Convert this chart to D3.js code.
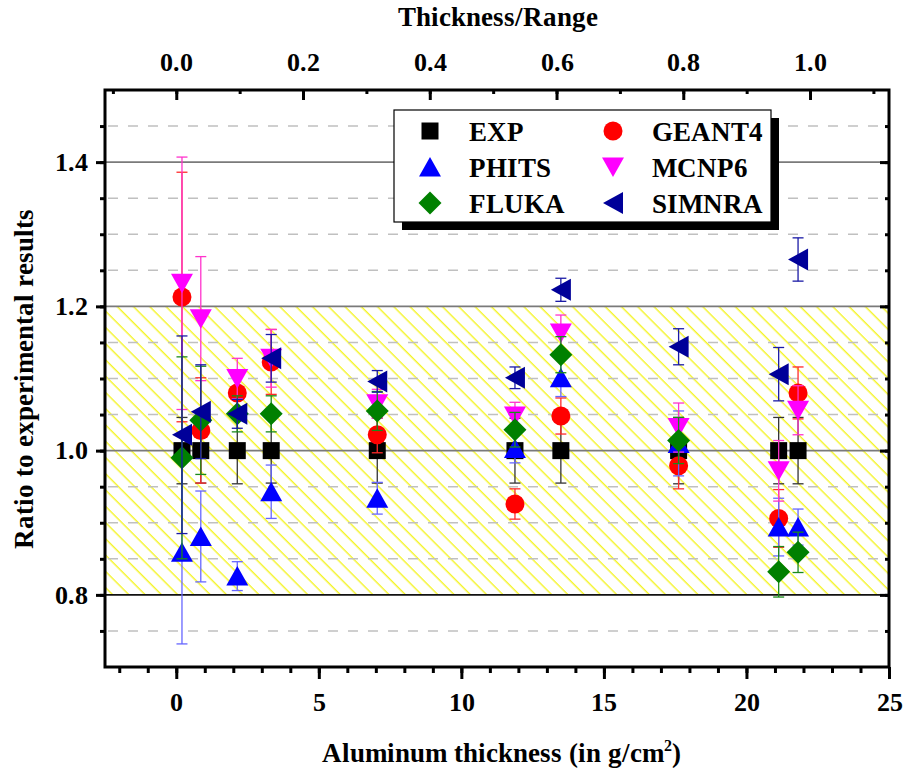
<!DOCTYPE html>
<html>
<head>
<meta charset="utf-8">
<script src="https://cdn.jsdelivr.net/npm/d3@7"></script>
<style>
  @font-face { font-family: 'FigSerif'; font-weight: bold;
    src: local('Liberation Serif Bold'), local('LiberationSerif-Bold'), local('DejaVu Serif Bold'), local('DejaVuSerif-Bold'); }
  body { margin: 0; background: #fff; }
</style>
</head>
<body>
<div id="chart"></div>
<script>
// thickness in g/cm2 for each measured point
const thickness = [0.2, 0.86, 2.14, 3.33, 7.05, 11.88, 13.49, 17.62, 21.13, 21.81]
// range of the beam in aluminium (used for top axis)
const alRange = 22.23

const seriesNames = ['EXP', 'GEANT4', 'PHITS', 'MCNP6', 'FLUKA', 'SIMNRA']

const expVal = [1, 1, 1, 1, 1, 1, 1, 1, 1, 1]
const expErr = [0.046, 0.045, 0.046, 0.045, 0.045, 0.045, 0.045, 0.046, 0.046, 0.046]
const geantVal = [1.213, 1.028, 1.080, 1.123, 1.022, 0.926, 1.048, 0.979, 0.906, 1.080]
const geantErr = [0.173, 0.073, 0.030, 0.045, 0.025, 0.021, 0.025, 0.032, 0.040, 0.036]
const phitsVal = [0.859, 0.881, 0.826, 0.943, 0.934, 1.003, 1.101, 1.010, 0.894, 0.894]
const phitsErr = [0.127, 0.063, 0.020, 0.037, 0.022, 0.020, 0.026, 0.045, 0.040, 0.025]
const mcnpVal = [1.232, 1.183, 1.100, 1.128, 1.065, 1.048, 1.163, 1.032, 0.972, 1.056]
const mcnpErr = [0.175, 0.086, 0.028, 0.040, 0.020, 0.019, 0.025, 0.034, 0.042, 0.034]
const flukaVal = [0.990, 1.042, 1.051, 1.051, 1.055, 1.029, 1.133, 1.014, 0.832, 0.859]
const flukaErr = [0.140, 0.075, 0.025, 0.025, 0.027, 0.024, 0.025, 0.032, 0.035, 0.028]
const simnraVal = [1.022, 1.054, 1.051, 1.128, 1.096, 1.101, 1.223, 1.144, 1.106, 1.265]
const simnraErr = [0.137, 0.065, 0.020, 0.033, 0.015, 0.015, 0.016, 0.025, 0.037, 0.030]

const bandLow = 0.8
const bandHigh = 1.2

const FONT = "FigSerif, 'Liberation Serif', 'DejaVu Serif', serif"

const series = [
    { name: 'EXP', vals: expVal, errs: expErr, shape: 'square', color: '#000000', errColor: '#333333' },
    { name: 'GEANT4', vals: geantVal, errs: geantErr, shape: 'circle', color: '#ff0000', errColor: '#ff2a2a' },
    { name: 'PHITS', vals: phitsVal, errs: phitsErr, shape: 'up', color: '#0000ff', errColor: '#6666ff' },
    { name: 'MCNP6', vals: mcnpVal, errs: mcnpErr, shape: 'down', color: '#ff00ff', errColor: '#ff33cc' },
    { name: 'FLUKA', vals: flukaVal, errs: flukaErr, shape: 'diamond', color: '#008000', errColor: '#1a8a1a' },
    { name: 'SIMNRA', vals: simnraVal, errs: simnraErr, shape: 'left', color: '#000099', errColor: '#1a1aa6' },
]

const width = 909, height = 778
const margin = { top: 90, right: 20, bottom: 111, left: 105 }
const innerW = width - margin.left - margin.right
const innerH = height - margin.top - margin.bottom

const x = d3.scaleLinear().domain([-2.5, 25]).range([0, innerW])
const xTop = d3.scaleLinear().domain([-2.5 / alRange, 25 / alRange]).range([0, innerW])
const y = d3.scaleLinear().domain([0.7, 1.5]).range([innerH, 0])

const svg = d3.select('#chart').append('svg')
    .attr('width', width)
    .attr('height', height)
    .attr('font-family', FONT)
    .attr('font-weight', 'bold')

const defs = svg.append('defs')
const hatch = defs.append('pattern')
    .attr('id', 'hatch')
    .attr('patternUnits', 'userSpaceOnUse')
    .attr('width', 11.5)
    .attr('height', 11.5)
    .attr('patternTransform', 'rotate(-45)')
hatch.append('line')
    .attr('x1', 5).attr('x2', 5).attr('y1', 0).attr('y2', 11.5)
    .attr('stroke', '#f2f200').attr('stroke-width', 1.2)

defs.append('clipPath').attr('id', 'plotclip')
    .append('rect').attr('width', innerW).attr('height', innerH)

const g = svg.append('g')
    .attr('transform', `translate(${margin.left},${margin.top})`)

// hatched band
g.append('rect')
    .attr('x', 0)
    .attr('width', innerW)
    .attr('y', y(bandHigh))
    .attr('height', y(bandLow) - y(bandHigh))
    .attr('fill', 'url(#hatch)')

// grid lines
const majorY = [0.8, 1.0, 1.2, 1.4]
const minorY = d3.range(0.75, 1.5, 0.05).map(v => +v.toFixed(2)).filter(v => !majorY.includes(v))
g.append('g').selectAll('line.minor')
    .data(minorY)
    .join('line')
    .attr('class', 'minor')
    .attr('x1', 0).attr('x2', innerW)
    .attr('y1', d => y(d)).attr('y2', d => y(d))
    .attr('stroke', '#c0c0c0')
    .attr('stroke-width', 1.6)
    .attr('stroke-dasharray', '10,10')
    .attr('stroke-dashoffset', -3)
g.append('g').selectAll('line.major')
    .data(majorY)
    .join('line')
    .attr('class', 'major')
    .attr('x1', 0).attr('x2', innerW)
    .attr('y1', d => y(d)).attr('y2', d => y(d))
    .attr('stroke', d => d === bandLow ? '#111' : '#7a7a7a')
    .attr('stroke-width', 1.8)

// marker shapes, centred on the data point
function markerPath(shape) {
    switch (shape) {
        case 'square': return 'M-8.5,-8.5H8.5V8.5H-8.5Z'
        case 'up': return 'M0,-10L11,9.5L-11,9.5Z'
        case 'down': return 'M0,10L11,-9.5L-11,-9.5Z'
        case 'left': return 'M-10,0L10,-11L10,11Z'
        case 'diamond': return 'M0,-11.5L11.5,0L0,11.5L-11.5,0Z'
        case 'circle': return d3.arc()({ innerRadius: 0, outerRadius: 9.5, startAngle: 0, endAngle: 2 * Math.PI })
    }
}

const pts = g.append('g').attr('clip-path', 'url(#plotclip)')
series.forEach(s => {
    const data = thickness.map((t, i) => ({ t, v: s.vals[i], e: s.errs[i] }))
    const sg = pts.append('g').attr('class', 'series ' + s.name)
    const eb = sg.selectAll('g.err').data(data).join('g').attr('class', 'err')
        .attr('stroke', s.errColor).attr('stroke-width', 1.3)
    eb.append('line')
        .attr('x1', d => x(d.t)).attr('x2', d => x(d.t))
        .attr('y1', d => y(d.v - d.e)).attr('y2', d => y(d.v + d.e))
    eb.append('line')
        .attr('x1', d => x(d.t) - 5.5).attr('x2', d => x(d.t) + 5.5)
        .attr('y1', d => y(d.v - d.e)).attr('y2', d => y(d.v - d.e))
    eb.append('line')
        .attr('x1', d => x(d.t) - 5.5).attr('x2', d => x(d.t) + 5.5)
        .attr('y1', d => y(d.v + d.e)).attr('y2', d => y(d.v + d.e))
    sg.selectAll('path.mark').data(data).join('path')
        .attr('class', 'mark')
        .attr('d', markerPath(s.shape))
        .attr('transform', d => `translate(${x(d.t)},${y(d.v)})`)
        .attr('fill', s.color)
})

// axes
function styleAxis(sel) {
    sel.attr('font-family', FONT).attr('font-size', 26).attr('font-weight', 'bold')
    sel.select('.domain').remove()
    sel.selectAll('.tick line').attr('stroke', '#000').attr('stroke-width', 3)
    sel.selectAll('.tick text').attr('fill', '#000')
}

g.append('g').attr('transform', `translate(0,${innerH})`)
    .call(d3.axisBottom(x).tickValues(d3.range(-2, 26)).tickSize(6).tickFormat(''))
    .call(styleAxis)
g.append('g').attr('transform', `translate(0,${innerH})`)
    .call(d3.axisBottom(x).tickValues([0, 5, 10, 15, 20, 25]).tickSize(12).tickPadding(14).tickFormat(d3.format('d')))
    .call(styleAxis)

g.append('g')
    .call(d3.axisTop(xTop).tickValues(d3.range(-1, 12).map(v => v / 10)).tickSize(-4).tickFormat(''))
    .call(styleAxis)
g.append('g')
    .call(d3.axisTop(xTop).tickValues([0, 0.2, 0.4, 0.6, 0.8, 1.0]).tickSize(-10).tickPadding(19).tickFormat(d3.format('.1f')))
    .call(styleAxis)

const yTicks = d3.range(0.75, 1.5, 0.05).map(v => +v.toFixed(2))
g.append('g')
    .call(d3.axisLeft(y).tickValues(yTicks).tickSize(5).tickFormat(''))
    .call(styleAxis)
g.append('g')
    .call(d3.axisLeft(y).tickValues(majorY).tickSize(9).tickPadding(8).tickFormat(d3.format('.1f')))
    .call(styleAxis)
g.append('g').attr('transform', `translate(${innerW},0)`)
    .call(d3.axisRight(y).tickValues(yTicks).tickSize(-4).tickFormat(''))
    .call(styleAxis)
g.append('g').attr('transform', `translate(${innerW},0)`)
    .call(d3.axisRight(y).tickValues(majorY).tickSize(-9).tickFormat(''))
    .call(styleAxis)

// frame
g.append('rect')
    .attr('width', innerW).attr('height', innerH)
    .attr('fill', 'none').attr('stroke', '#000').attr('stroke-width', 3)

// axis titles
svg.append('text')
    .attr('x', margin.left + x(11.3)).attr('y', 26)
    .attr('text-anchor', 'middle')
    .attr('font-size', 27)
    .text('Thickness/Range')

const xt = svg.append('text')
    .attr('x', margin.left + x(11.4)).attr('y', 762)
    .attr('text-anchor', 'middle')
    .attr('font-size', 27)
xt.append('tspan').text('Aluminum thickness (in g/cm')
xt.append('tspan').attr('dy', -11).attr('font-size', 16).text('2')
xt.append('tspan').attr('dy', 11).text(')')

svg.append('text')
    .attr('transform', `translate(33,${margin.top + y(1.1)}) rotate(-90)`)
    .attr('text-anchor', 'middle')
    .attr('font-size', 27)
    .text('Ratio to experimental results')

// legend
const legend = svg.append('g').attr('transform', 'translate(394,110)')
legend.append('rect')
    .attr('x', 8).attr('y', 8).attr('width', 377).attr('height', 112).attr('fill', '#000')
legend.append('rect')
    .attr('width', 377).attr('height', 112)
    .attr('fill', '#fff').attr('stroke', '#000').attr('stroke-width', 1.2)
const items = legend.selectAll('g.item').data(series).join('g')
    .attr('class', 'item')
    .attr('transform', (d, i) => `translate(${i % 2 === 0 ? 36 : 219},${21 + Math.floor(i / 2) * 36})`)
items.append('path')
    .attr('d', d => markerPath(d.shape))
    .attr('fill', d => d.color)
items.append('text')
    .attr('x', 39).attr('y', 9.5)
    .attr('font-size', 27)
    .text(d => d.name)
</script>
</body>
</html>
